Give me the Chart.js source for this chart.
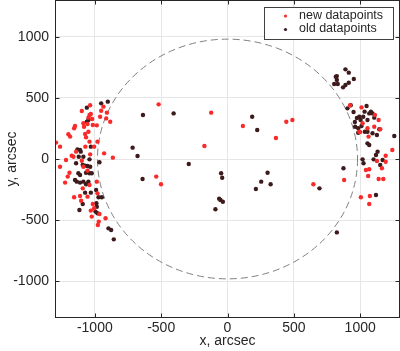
<!DOCTYPE html>
<html>
<head>
<meta charset="utf-8">
<script src="https://cdn.jsdelivr.net/npm/chart.js@4"></script>
<style>
  html, body { margin: 0; padding: 0; background: #fff; }
  #wrap { width: 400px; height: 351px; }
</style>
</head>
<body>
<div id="wrap"><canvas id="chart"></canvas></div>
<script>
// x, y in arcsec
const newX = [-1292, -1262, -1262, -1224, -1217, -1199, -1186, -1204, -1191, -1174, -1161, -1156, -1156, -1149, -1141,
  -1111, -1103, -1098, -1098, -1091, -1086, -1081, -1073, -1071, -1066, -1055, -1048, -1048, -1040, -1035,
  -1030, -1020, -1015, -1040, -1035, -1086, -1055, -1040, -1030, -1023, -1015, -1005, -985, -980, -980,
  -970, -965, -960, -952, -935, -930, -919, -914, -909, -884, -864, -977, -985, -1005, -1055,
  -519, -501, -537, -174, -123, 116, 365, 443, 489, 647, 879,
  924, 1010, 1018, 993, 1055, 1063, 1111, 1139, 1151, 1106, 1242, 1192, 1192, 1164, 1126,
  1043, 1068, 1060, 1139, 1174, 1005, 1073, 1068, 1000];
const newY = [134, 101, -63, -193, -8, 202, 183, -144, -112, 27, 19, 251, -313, 270, 60,
  -302, -341, 392, -14, -240, 292, 264, 204, 101, 177, 286, 338, 223, 360, 439,
  368, 327, 278, 142, 38, -63, -95, -213, -422, -471, -368, -403, 275, 142, -281,
  -512, -450, 346, 395, 428, 46, -485, 332, 379, 305, 11, -540, -185, 101, -308,
  447, -207, -144, 106, 379, 270, 172, 305, 319, -207, -172,
  439, 422, 292, 223, 251, 183, 360, 319, 243, 264, 74, 27, -22, -76, -16,
  -90, -84, -139, -164, -164, -313, -302, -368, 220];

const oldX = [-1131, -1111, -1121, -1106, -1141, -1091, -1073, -1055, -1035, -1066, -1040, -1023, -1124, -1111, -1149,
  -1136, -1111, -1086, -1066, -1055, -1048, -1073, -1030, -1116, -1091, -1060, -1060, -1048, -990, -988,
  -985, -995, -980, -972, -947, -965, -952, -902, -897, -877, -857, -1040, -1086, -1030,
  -715, -678, -637, -640, -406, -292, -48, -40, -63, -53, -35, -91, 186, 224, 254, 302, 325, 214, 693, 874, 824,
  816, 824, 804, 831, 889, 914, 871, 889, 914, 952, 824,
  904, 929, 950, 960, 975, 993, 1003, 1023, 1033, 1048, 1068, 1081, 1093, 1106, 962,
  985, 1010, 1035, 1055, 1093, 1126, 1144, 1257, 1055, 1068, 1018, 1025, 1101, 1119, 1131,
  1169, 1151, 1119, 985, 1055];
const oldY = [79, 74, 19, 60, -35, -49, -54, -57, -63, -112, -117, -117, -117, -131, -172,
  -185, -193, -185, -207, -199, -185, -275, -275, -417, -368, 305, 420, 319, -253, -362,
  -390, -430, -444, -313, -313, -27, 455, 469, -567, -580, -657, -3, 19, 101,
  93, 25, 360, -164, 373, -41, -117, -153, -324, -335, -349, -411, 346, 237, -185, -112, -207, -245, -240, -76, -600,
  673, 646, 613, 613, 733, 706, 586, 605, 624, 654, 678,
  414, 439, 384, 302, 335, 346, 319, 346, 387, 433, 373, 387, 373, 338, 264,
  251, 270, 223, 223, 210, 196, 243, 188, 128, 114, -3, -35, -3, 33, 60,
  -8, -49, -294, 215, 319];

const xTicks = [-1000, -500, 0, 500, 1000];
const yTicks = [-1000, -500, 0, 500, 1000];
const circleRadius = 980;
const seriesLabels = ['new datapoints', 'old datapoints'];

const toPoints = (xs, ys) => xs.map((x, i) => ({ x, y: ys[i] }));
const textColor = '#262626';
const tickFont = { family: 'Liberation Sans, Arial, sans-serif', size: 14 };

// dashed circle (limb) drawn through the scales
const limbPlugin = {
  id: 'limb',
  beforeDatasetsDraw(chart) {
    const { ctx, scales: { x, y }, chartArea } = chart;
    const cx = x.getPixelForValue(0), cy = y.getPixelForValue(0);
    const rx = x.getPixelForValue(circleRadius) - cx;
    const ry = cy - y.getPixelForValue(circleRadius);
    ctx.save();
    ctx.beginPath();
    ctx.rect(chartArea.left, chartArea.top, chartArea.width, chartArea.height);
    ctx.clip();
    ctx.strokeStyle = '#808080';
    ctx.lineWidth = 1;
    ctx.setLineDash([7, 4]);
    ctx.beginPath();
    ctx.ellipse(cx, cy, rx, ry, 0, 0, Math.PI * 2);
    ctx.stroke();
    ctx.restore();
  }
};

// box around the axes with inward ticks, plus the legend box
const boxPlugin = {
  id: 'box',
  afterDraw(chart) {
    const { ctx, scales: { x, y }, chartArea: a } = chart;
    ctx.save();
    ctx.strokeStyle = textColor;
    ctx.lineWidth = 1;
    const L = Math.round(a.left) + 0.5, R = Math.round(a.right) - 0.5;
    const T = Math.round(a.top) + 0.5, B = Math.round(a.bottom) - 0.5;
    ctx.strokeRect(L, T, R - L, B - T);
    ctx.beginPath();
    xTicks.forEach(v => {
      const px = Math.round(x.getPixelForValue(v)) + 0.5;
      ctx.moveTo(px, B); ctx.lineTo(px, B - 4);
      ctx.moveTo(px, T); ctx.lineTo(px, T + 4);
    });
    yTicks.forEach(v => {
      const py = Math.round(y.getPixelForValue(v)) + 0.5;
      ctx.moveTo(L, py); ctx.lineTo(L + 4, py);
      ctx.moveTo(R, py); ctx.lineTo(R - 4, py);
    });
    ctx.stroke();

    // legend
    const lx = 264.5, ly = 7.5, lw = 129, lh = 32;
    ctx.fillStyle = '#fff';
    ctx.fillRect(lx, ly, lw, lh);
    ctx.strokeStyle = '#404040';
    ctx.strokeRect(lx, ly, lw, lh);
    ctx.font = '12.5px Liberation Sans, Arial, sans-serif';
    ctx.textBaseline = 'middle';
    chart.data.datasets.forEach((ds, i) => {
      const yy = 15.5 + i * 13.5;
      ctx.fillStyle = ds.backgroundColor;
      ctx.beginPath();
      ctx.arc(285.5, yy + 0.5, 1.6, 0, Math.PI * 2);
      ctx.fill();
      ctx.fillStyle = textColor;
      ctx.fillText(ds.label, 299, yy);
    });
    ctx.restore();
  }
};

new Chart(document.getElementById('chart'), {
  type: 'scatter',
  data: {
    datasets: [
      { label: seriesLabels[0], data: toPoints(newX, newY), backgroundColor: '#f92a2a', borderWidth: 0, pointRadius: 2.2 },
      { label: seriesLabels[1], data: toPoints(oldX, oldY), backgroundColor: '#3d1a1c', borderWidth: 0, pointRadius: 2.2 }
    ]
  },
  options: {
    responsive: true,
    maintainAspectRatio: false,
    animation: false,
    layout: { padding: 0, autoPadding: false },
    plugins: { legend: { display: false }, tooltip: { enabled: false } },
    scales: {
      x: {
        type: 'linear',
        min: -1300,
        max: 1300,
        afterBuildTicks: s => { s.ticks = xTicks.map(v => ({ value: v })); },
        afterFit: s => { s.height = 33; s.paddingLeft = 0; s.paddingRight = 0; },
        grid: { color: '#e6e6e6', drawTicks: false },
        border: { display: false },
        ticks: { color: textColor, font: tickFont, padding: 2, maxRotation: 0, callback: v => String(v) },
        title: { display: true, text: 'x, arcsec', color: textColor, font: tickFont, padding: { top: 0, bottom: 1 } }
      },
      y: {
        type: 'linear',
        min: -1300,
        max: 1300,
        afterBuildTicks: s => { s.ticks = yTicks.map(v => ({ value: v })); },
        afterFit: s => { s.width = 55; s.paddingTop = 0; s.paddingBottom = 0; },
        grid: { color: '#e6e6e6', drawTicks: false },
        border: { display: false },
        ticks: { color: textColor, font: tickFont, padding: 6, callback: v => String(v) },
        title: { display: true, text: 'y, arcsec', color: textColor, font: tickFont, padding: { top: 4, bottom: 4 } }
      }
    }
  },
  plugins: [limbPlugin, boxPlugin]
});
</script>
</body>
</html>
